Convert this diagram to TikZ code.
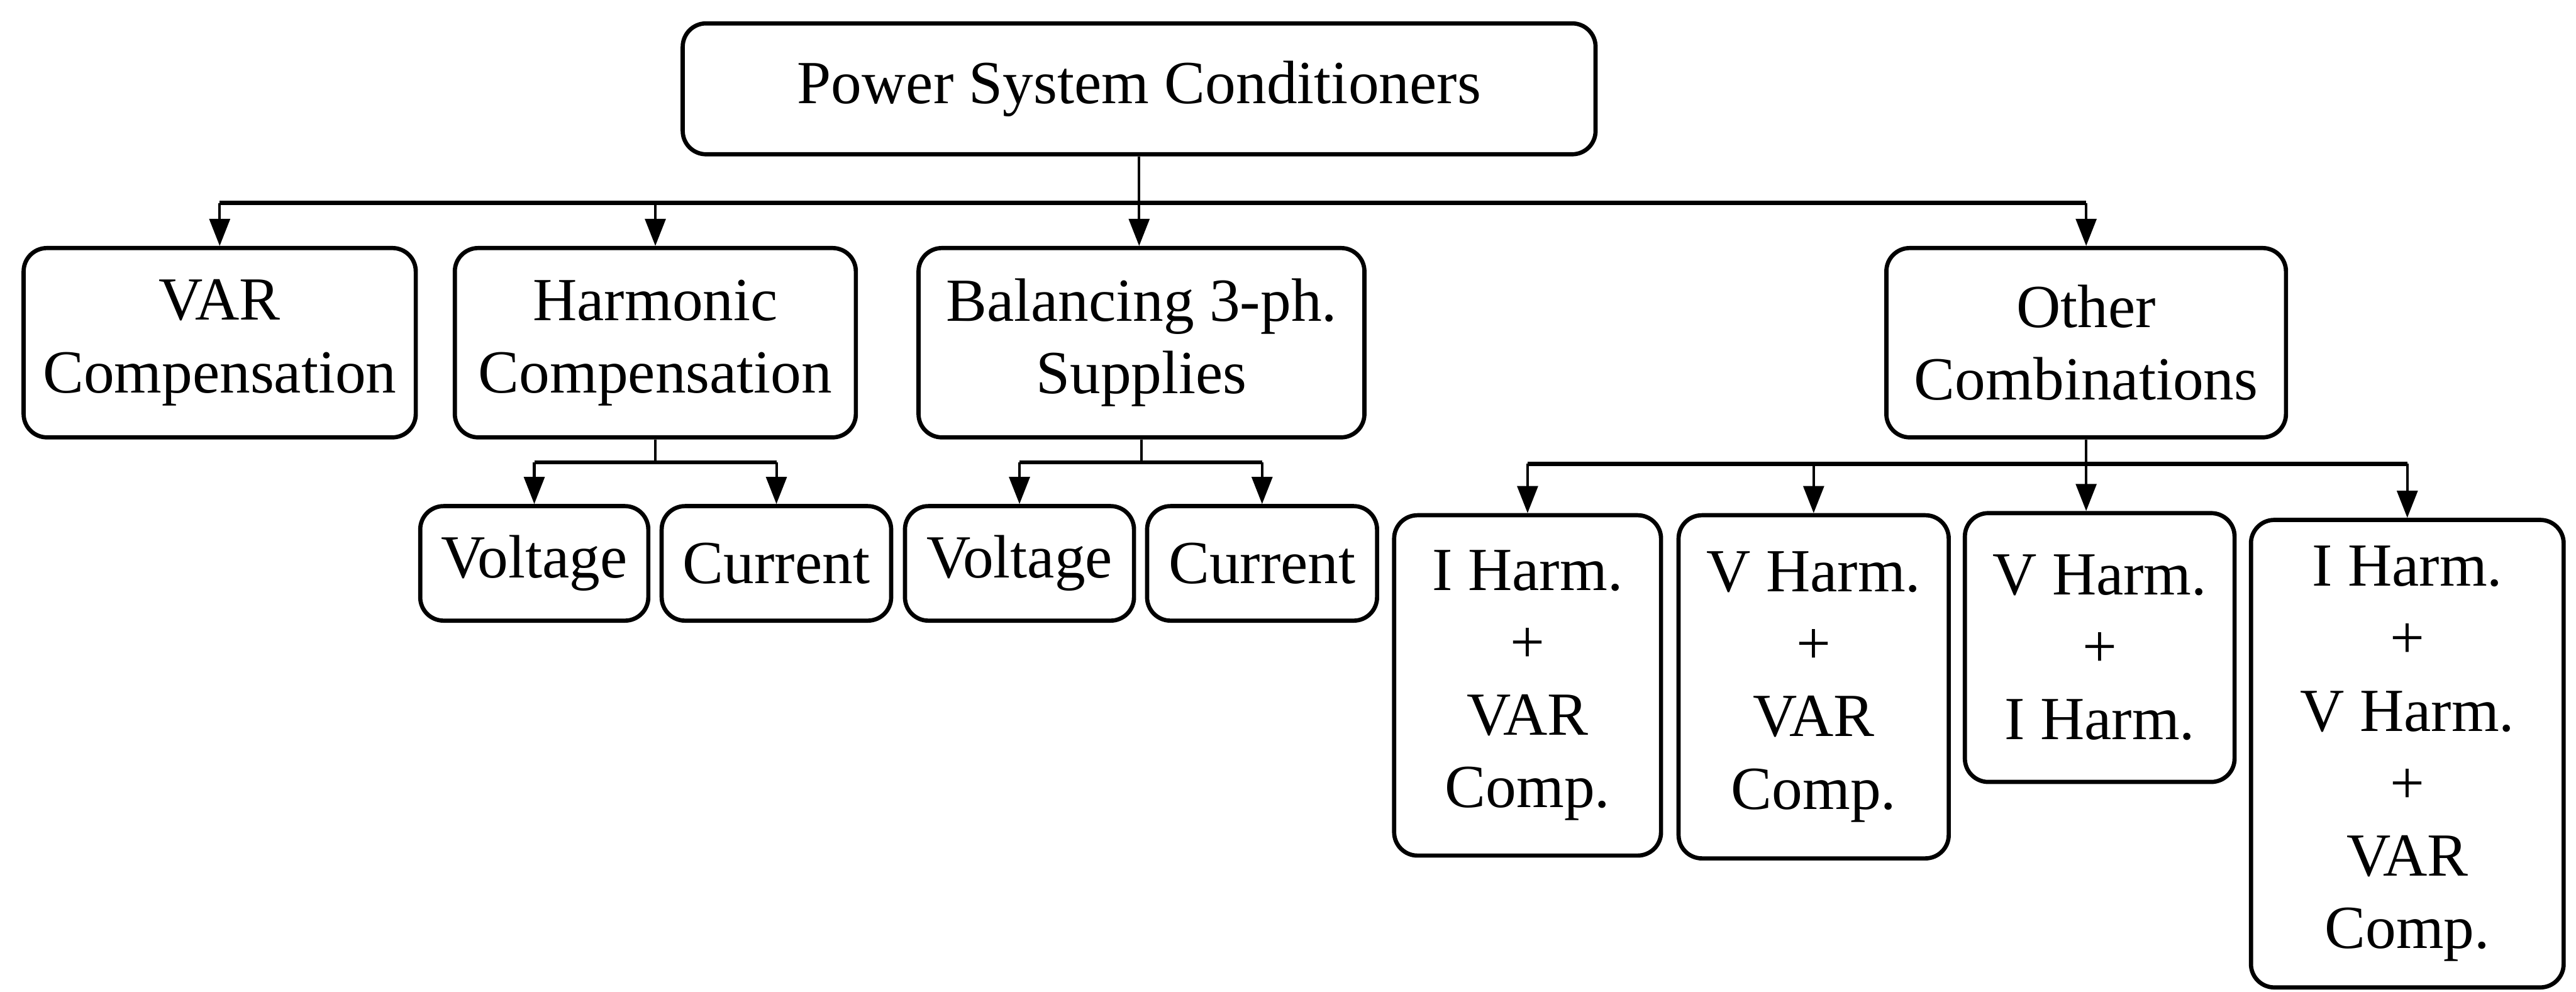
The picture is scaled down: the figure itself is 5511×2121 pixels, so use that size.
\documentclass[tikz,border=0pt]{standalone}
\usepackage{fontspec}
\setmainfont{Liberation Serif}
\usetikzlibrary{arrows.meta}
\begin{document}
\begin{tikzpicture}[x=0.1pt,y=-0.1pt,
  box/.style={draw, line width=0.9pt, rounded corners=5pt, inner sep=0pt, align=center,
    font=\fontsize{13.1pt}{15.5pt}\selectfont},
  conn/.style={line width=0.55pt},
  arr/.style={line width=0.55pt, -{Triangle[length=5.8pt,width=4.4pt]}},
  bus/.style={line width=0.9pt}]
\useasboundingbox (0,0) rectangle (5511,2121);
% level 0
\node[box, minimum width=195.3pt, minimum height=28pt] (root) at (2437,190) {Power System Conditioners};
% level 1
\node[box, minimum width=83.9pt, minimum height=40.5pt] (var) at (470,733) {VAR\\Compensation};
\node[box, minimum width=85.8pt, minimum height=40.5pt] (harm) at (1402,733) {Harmonic\\Compensation};
\node[box, minimum width=95.4pt, minimum height=40.5pt] (bal) at (2442,733) {Balancing 3-ph.\\Supplies};
\node[box, minimum width=85.5pt, minimum height=40.5pt] (other) at (4463,733) {Other\\Combinations};
% level 2
\node[box, minimum width=48.8pt, minimum height=24.5pt] (hv) at (1143,1205) {Voltage};
\node[box, minimum width=49.1pt, minimum height=24.5pt] (hc) at (1661,1205) {Current};
\node[box, minimum width=49.0pt, minimum height=24.5pt] (bv) at (2181,1205) {Voltage};
\node[box, minimum width=49.2pt, minimum height=24.5pt] (bc) at (2700,1205) {Current};
\node[box, minimum width=57.1pt, minimum height=72.8pt] (k1) at (3268,1466) {I Harm.\\+\\VAR\\Comp.};
\node[box, minimum width=57.8pt, minimum height=73.4pt] (k2) at (3880,1469) {V Harm.\\+\\VAR\\Comp.};
\node[box, minimum width=57.7pt, minimum height=57.5pt] (k3) at (4492,1385) {V Harm.\\+\\I Harm.};
\node[box, minimum width=66.9pt, minimum height=100pt] (k4) at (5150,1612) {I Harm.\\+\\V Harm.\\+\\VAR\\Comp.};
% bus coordinates
\coordinate (b0) at (2437,434);
\coordinate (b1) at (1402,989);
\coordinate (b2) at (2440,989);
\coordinate (b3) at (4460,992);
% root connectors
\draw[bus] (var.north |- b0) -- (other.north |- b0);
\draw[arr] (root.south) -- (root.south |- bal.north);
\draw[arr] (var.north |- b0) -- (var.north);
\draw[arr] (harm.north |- b0) -- (harm.north);
\draw[arr] (other.north |- b0) -- (other.north);
% harmonic connectors
\draw[conn] (harm.south) -- (harm.south |- b1);
\draw[bus] (hv.north |- b1) -- (hc.north |- b1);
\draw[arr] (hv.north |- b1) -- (hv.north);
\draw[arr] (hc.north |- b1) -- (hc.north);
% balancing connectors
\draw[conn] (bal.south) -- (bal.south |- b2);
\draw[bus] (bv.north |- b2) -- (bc.north |- b2);
\draw[arr] (bv.north |- b2) -- (bv.north);
\draw[arr] (bc.north |- b2) -- (bc.north);
% other connectors
\draw[bus] (k1.north |- b3) -- (k4.north |- b3);
\draw[arr] (other.south) -- (other.south |- k3.north);
\draw[arr] (k1.north |- b3) -- (k1.north);
\draw[arr] (k2.north |- b3) -- (k2.north);
\draw[arr] (k4.north |- b3) -- (k4.north);
\end{tikzpicture}
\end{document}
